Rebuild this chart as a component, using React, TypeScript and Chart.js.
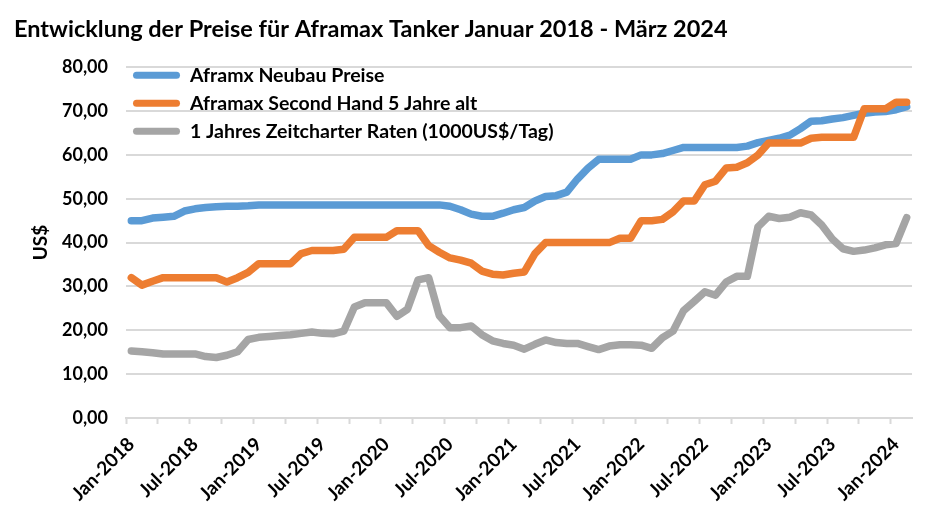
import { useEffect, useRef } from 'react';
import { Chart, registerables } from 'chart.js';

Chart.register(...registerables);

// Monthly categories: Jan 2018 … Feb 2024 (74 months)
const MONTH_NAMES = ['Jan', 'Feb', 'Mrz', 'Apr', 'Mai', 'Jun', 'Jul', 'Aug', 'Sep', 'Okt', 'Nov', 'Dez'];
const YEARS = [2018, 2019, 2020, 2021, 2022, 2023, 2024];
const MONTH_COUNT = 74;
const CATEGORIES: string[] = [];
for (const y of YEARS) for (const m of MONTH_NAMES) if (CATEGORIES.length < MONTH_COUNT) CATEGORIES.push(`${m}-${y}`);

const TITLE = 'Entwicklung der Preise für Aframax Tanker Januar 2018 - März 2024';
const Y_TITLE = 'US$';
const SERIES_LABELS = [
  'Aframx Neubau Preise',
  'Aframax Second Hand 5 Jahre alt',
  '1 Jahres Zeitcharter Raten (1000US$/Tag)',
];
const SERIES_COLORS = ['#5B9BD5', '#ED7D31', '#A5A5A5'];

const NEUBAU = [
  45, 45, 45.6, 45.8, 46, 47.2, 47.7, 48, 48.2, 48.3, 48.3, 48.4,
  48.6, 48.6, 48.6, 48.6, 48.6, 48.6, 48.6, 48.6, 48.6, 48.6, 48.6, 48.6,
  48.6, 48.6, 48.6, 48.6, 48.6, 48.6, 48.3, 47.5, 46.5, 46, 46, 46.7,
  47.5, 48, 49.5, 50.5, 50.7, 51.5, 54.5, 57, 59, 59, 59, 59,
  60, 60, 60.3, 61, 61.7, 61.7, 61.7, 61.7, 61.7, 61.7, 62, 62.8,
  63.3, 63.8, 64.5, 66, 67.7, 67.8, 68.2, 68.5, 69, 69.5, 69.8, 69.9,
  70.3, 71,
];
const SECOND_HAND = [
  32, 30.3, 31.2, 32, 32, 32, 32, 32, 32, 31, 32, 33.2,
  35.2, 35.2, 35.2, 35.2, 37.5, 38.2, 38.2, 38.2, 38.5, 41.2, 41.2, 41.2,
  41.2, 42.7, 42.7, 42.7, 39.3, 37.8, 36.5, 36, 35.3, 33.5, 32.8, 32.6,
  33, 33.3, 37.5, 40, 40, 40, 40, 40, 40, 40, 41, 41,
  45, 45, 45.3, 47, 49.5, 49.5, 53.2, 54, 57, 57.2, 58.2, 60,
  62.7, 62.7, 62.7, 62.7, 63.8, 64, 64, 64, 64, 70.5, 70.5, 70.5,
  72, 72,
];
const ZEITCHARTER = [
  15.3, 15.1, 14.9, 14.6, 14.6, 14.6, 14.6, 14, 13.8, 14.3, 15.1, 17.9,
  18.4, 18.6, 18.8, 19, 19.3, 19.6, 19.3, 19.2, 19.8, 25.3, 26.3, 26.3,
  26.3, 23.2, 24.8, 31.5, 32, 23.3, 20.6, 20.6, 21, 19, 17.6, 17,
  16.6, 15.7, 16.8, 17.8, 17.2, 17, 17, 16.3, 15.6, 16.4, 16.7, 16.7,
  16.6, 15.9, 18.3, 19.8, 24.5, 26.6, 28.8, 28, 31, 32.3, 32.3, 43.6,
  46, 45.5, 45.8, 46.8, 46.3, 44, 40.8, 38.6, 38, 38.3, 38.8, 39.5,
  39.8, 45.7,
];

const Y_MIN = 0;
const Y_MAX = 80;
const Y_STEP = 10;

const FONT = 'Lato';
const GRID = '#D9D9D9';

const insideLegend = {
  id: 'insideLegend',
  afterDraw(chart: any) {
    const { ctx, chartArea } = chart;
    ctx.save();
    chart.data.datasets.forEach((ds: any, i: number) => {
      const y = chartArea.top + 8 + i * 28;
      const x0 = chartArea.left + 10.5;
      ctx.strokeStyle = ds.borderColor;
      ctx.lineWidth = 7;
      ctx.lineCap = 'round';
      ctx.beginPath();
      ctx.moveTo(x0, y);
      ctx.lineTo(x0 + 40, y);
      ctx.stroke();
      ctx.fillStyle = '#000';
      ctx.font = `bold 19.5px ${FONT}`;
      ctx.textBaseline = 'middle';
      ctx.textAlign = 'left';
      ctx.fillText(ds.label, chartArea.left + 64, y + 1);
    });
    ctx.restore();
  },
};

export default function App() {
  const ref = useRef<HTMLCanvasElement | null>(null);

  useEffect(() => {
    if (!ref.current) return;
    const series = [NEUBAU, SECOND_HAND, ZEITCHARTER];
    const chart = new Chart(ref.current, {
      type: 'line',
      data: {
        labels: CATEGORIES,
        datasets: series.map((d, i) => ({
          label: SERIES_LABELS[i],
          data: d,
          borderColor: SERIES_COLORS[i],
          backgroundColor: SERIES_COLORS[i],
          borderWidth: 7.5,
          borderJoinStyle: 'round' as const,
          borderCapStyle: 'round' as const,
          pointRadius: 0,
          tension: 0,
          fill: false,
          order: 3 - i,
        })),
      },
      options: {
        responsive: false,
        animation: false,
        events: [],
        layout: { padding: { left: 14, right: 32, top: 0, bottom: 0 } },
        plugins: {
          legend: { display: false },
          tooltip: { enabled: false },
          title: {
            display: true,
            text: TITLE,
            align: 'start',
            color: '#000',
            font: { family: FONT, size: 23.5, weight: 'bold' },
            padding: { top: 15, bottom: 24 },
          },
        },
        scales: {
          x: {
            type: 'category',
            offset: true,
            grid: {
              offset: true,
              drawOnChartArea: false,
              drawTicks: true,
              tickLength: 6,
              tickWidth: 2,
              tickColor: (c: any) => (c.index % 3 === 0 ? GRID : 'rgba(0,0,0,0)'),
            },
            border: { display: true, color: GRID, width: 2 },
            ticks: {
              autoSkip: false,
              minRotation: 45,
              maxRotation: 45,
              padding: 9,
              color: '#000',
              font: { family: FONT, size: 19, weight: 'bold' },
              callback: (_v: any, idx: number) => (idx % 6 === 0 ? CATEGORIES[idx] : ''),
            },
            afterFit: (s: any) => {
              s.height = 104;
            },
          },
          y: {
            min: Y_MIN,
            max: Y_MAX,
            grid: { color: GRID, lineWidth: 2, drawTicks: false },
            border: { display: false },
            ticks: {
              stepSize: Y_STEP,
              padding: 18,
              color: '#000',
              font: { family: FONT, size: 18, weight: 'bold' },
              callback: (v: any) => Number(v).toFixed(2).replace('.', ','),
            },
            title: {
              display: true,
              text: Y_TITLE,
              color: '#000',
              font: { family: FONT, size: 19, weight: 'bold' },
              padding: { top: 15, bottom: 0 },
            },
            afterFit: (s: any) => {
              s.width = 112;
            },
          },
        },
      },
      plugins: [insideLegend],
    });
    return () => chart.destroy();
  }, []);

  return (
    <div style={{ position: 'absolute', left: 0, top: 0, width: 944, height: 522, background: '#fff' }}>
      <canvas ref={ref} width={944} height={522} style={{ display: 'block' }} />
    </div>
  );
}
